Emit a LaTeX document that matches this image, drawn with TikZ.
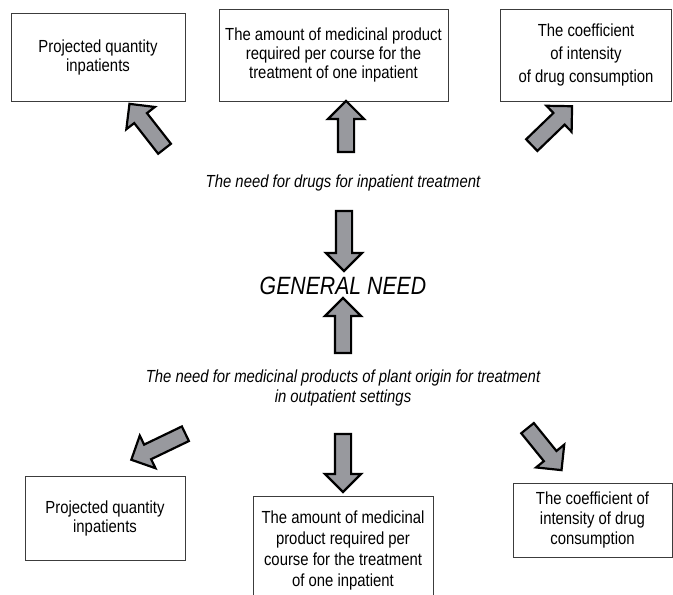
\documentclass[tikz,border=0pt]{standalone}
\usepackage{fontspec}
\setmainfont[FakeStretch=0.85]{Liberation Sans}
\usepackage{xcolor}
\usepackage{tikz}
\usetikzlibrary{shapes.arrows,positioning}
\definecolor{ArrFill}{RGB}{152,153,158}
\definecolor{BoxLine}{RGB}{60,60,60}

\begin{document}
\begin{tikzpicture}[x=1pt,y=1pt,
  factor/.style={draw=BoxLine,line width=0.9pt,align=center,inner sep=0pt,
    font=\fontsize{17.5}{19}\selectfont},
  need/.style={align=center,font=\fontsize{17.5}{20}\selectfont\itshape},
  blockarr/.style={single arrow,draw=black,fill=ArrFill,line width=2.2pt,
    inner xsep=0pt,inner ysep=7pt,single arrow head extend=10pt}]
\useasboundingbox(0,0)rectangle(673,595);
\clip(0,0)rectangle(673,595);
% inpatient factors
\node[factor,minimum width=174,minimum height=88](inQty)at(98,538){Projected quantity\\inpatients};
\node[factor,minimum width=229,minimum height=92](inDose)at(333.5,540){The amount of medicinal product\\required per course for the\\treatment of one inpatient};
\node[factor,minimum width=171,minimum height=92,font=\fontsize{17.5}{23}\selectfont](inCoef)at(586,540){The coefficient\\of intensity\\of drug consumption};
% needs
\node[need](needIn)at(343,412){The need for drugs for inpatient treatment};
\node[font=\fontsize{25}{28}\selectfont\itshape](needAll)at(343,309){GENERAL NEED};
\node[need](needOut)at(343,207){The need for medicinal products of plant origin for treatment\\in outpatient settings};
% outpatient factors
\node[factor,minimum width=160,minimum height=84](outQty)at(105,77){Projected quantity\\inpatients};
\node[factor,minimum width=180,minimum height=109,font=\fontsize{17.5}{21}\selectfont](outDose)at(343,44.5){The amount of medicinal\\product required per\\course for the treatment\\of one inpatient};
\node[factor,minimum width=159,minimum height=74,font=\fontsize{17.5}{20}\selectfont](outCoef)at(592.5,75){The coefficient of\\intensity of drug\\consumption};
% block arrows
\foreach \n/\x/\y/\a/\l in {
  arInQty/149.5/465.5/128/57,
  arInDose/346/464.5/90/51,
  arInCoef/549/466.5/44/56,
  arInAll/344/358/-90/60,
  arOutAll/343/265.5/90/55,
  arOutQty/162/150/205.7/60,
  arOutDose/343/136/-90/58,
  arOutCoef/542/149/-51/54
}{
  \node[blockarr,minimum height=\l,rotate=\a](\n)at(\x,\y){};
}
\end{tikzpicture}
\end{document}
